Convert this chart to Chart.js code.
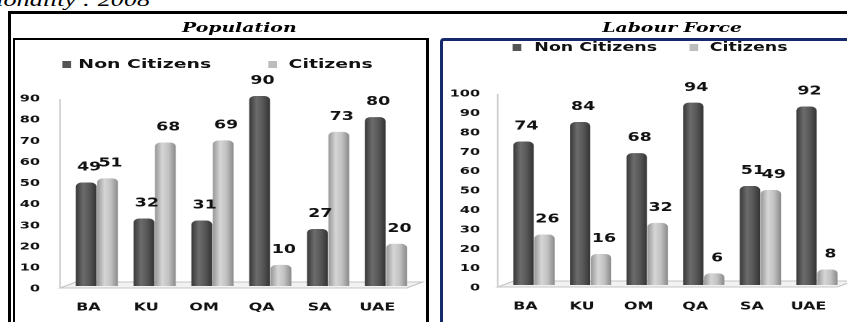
<!DOCTYPE html>
<html>
<head>
<meta charset="utf-8">
<script src="https://cdn.jsdelivr.net/npm/chart.js@4.4.1/dist/chart.umd.min.js"></script>
<style>
  html, body { margin: 0; padding: 0; background: #fff; overflow: hidden; width: 847px; height: 322px; }
  body { position: relative; font-family: "DejaVu Sans", sans-serif; color: #111; }
  #caption { position: absolute; right: 697px; top: -9px; font: italic 18px/18px "Liberation Serif", serif; white-space: nowrap; color: #000; transform-origin: 100% 0; transform: scaleX(1.45); }
  #outer { position: absolute; left: 8px; top: 11px; width: 900px; height: 400px; border-left: 3px solid #000; border-top: 3px solid #000; }
  #boxL { position: absolute; left: 13px; top: 38px; width: 411px; height: 400px; border: 2px solid #000; border-right-width: 3px; }
  #boxR { position: absolute; left: 440px; top: 38px; width: 480px; height: 400px; border: 3px solid #15296b; border-radius: 4px; }
  .panel { position: absolute; top: 0; height: 322px; transform-origin: 0 0; transform: scaleX(1.45); }
  .title { position: absolute; width: 200px; text-align: center; font: italic bold 13px/14px "DejaVu Serif", serif; color: #000; white-space: nowrap; }
  .leg { position: absolute; font: bold 13px/14px "DejaVu Sans", sans-serif; color: #111; white-space: nowrap; }
  #panelR .leg { font-size: 12px; }
  .sw { position: absolute; width: 6px; height: 7px; }
  canvas { position: absolute; left: 0; top: 40px; }
</style>
</head>
<body>
<div id="caption">Nationality : 2008</div>
<div id="outer"></div>
<div id="boxL"></div>
<div id="boxR"></div>

<div class="panel" id="panelL" style="left:16px; width:283px;">
  <div class="title" style="left:54px; top:21px;">Population</div>
  <span class="sw" style="left:32px; top:61px; background:#555;"></span>
  <span class="leg" style="left:43px; top:57px;">Non Citizens</span>
  <span class="sw" style="left:174px; top:61px; background:#bdbdbd;"></span>
  <span class="leg" style="left:188px; top:57px;">Citizens</span>
  <canvas id="popChart" width="283" height="282"></canvas>
</div>

<div class="panel" id="panelR" style="left:443px; width:301px;">
  <div class="title" style="left:58px; top:21px;">Labour Force</div>
  <span class="sw" style="left:48px; top:44px; background:#555;"></span>
  <span class="leg" style="left:63px; top:40px;">Non Citizens</span>
  <span class="sw" style="left:170px; top:44px; background:#bdbdbd;"></span>
  <span class="leg" style="left:184px; top:40px;">Citizens</span>
  <canvas id="labChart" width="301" height="282"></canvas>
</div>

<script>
// data (percent)
const categories = ["BA", "KU", "OM", "QA", "SA", "UAE"];
const popNonCitizens = [49, 32, 31, 90, 27, 80];
const popCitizens = [51, 68, 69, 10, 73, 20];
const labNonCitizens = [74, 84, 68, 94, 51, 92];
const labCitizens = [26, 16, 32, 6, 49, 8];
const popMax = 90;
const labMax = 100;

const CAT_PCT = 0.74;
const BAR_PCT = 0.97;
const DEPTH = 5.5; // fake 3d depth of the floor

// horizontal gradient so the bars look like cylinders
function cylinder(dark) {
  return function (c) {
    const fallback = dark ? "#555" : "#bdbdbd";
    const xs = c.chart.scales.x;
    if (!xs || c.dataIndex === undefined) return fallback;
    const center = xs.getPixelForValue(c.dataIndex);
    const range = (xs.right - xs.left) / categories.length * CAT_PCT;
    const slot = range / 2;
    const x0 = center - range / 2 + slot * c.datasetIndex + slot * (1 - BAR_PCT) / 2;
    const x1 = x0 + slot * BAR_PCT;
    if (!isFinite(x0) || !isFinite(x1)) return fallback;
    const g = c.chart.ctx.createLinearGradient(x0, 0, x1, 0);
    if (dark) {
      g.addColorStop(0, "#383838");
      g.addColorStop(0.35, "#6c6c6c");
      g.addColorStop(0.65, "#585858");
      g.addColorStop(1, "#343434");
    } else {
      g.addColorStop(0, "#979797");
      g.addColorStop(0.35, "#d6d6d6");
      g.addColorStop(0.65, "#c2c2c2");
      g.addColorStop(1, "#8a8a8a");
    }
    return g;
  };
}

// floor and wall edge
const floorPlugin = {
  id: "floor",
  beforeDatasetsDraw(chart) {
    const { ctx, chartArea: a } = chart;
    ctx.save();
    ctx.fillStyle = "#f2f2f2";
    ctx.strokeStyle = "#c4c4c4";
    ctx.lineWidth = 1;
    ctx.beginPath();
    ctx.moveTo(a.left - DEPTH, a.bottom + 2);
    ctx.lineTo(a.right - DEPTH, a.bottom + 2);
    ctx.lineTo(a.right + DEPTH, a.bottom - 4);
    ctx.lineTo(a.left + DEPTH, a.bottom - 4);
    ctx.closePath();
    ctx.fill();
    ctx.stroke();
    ctx.beginPath();
    ctx.moveTo(a.left - DEPTH, a.top + 3);
    ctx.lineTo(a.left - DEPTH, a.bottom + 2);
    ctx.stroke();
    ctx.restore();
  },
};

// value labels above every bar
const valuePlugin = {
  id: "values",
  afterDatasetsDraw(chart) {
    const ctx = chart.ctx;
    ctx.save();
    ctx.font = "bold 12px 'DejaVu Sans', sans-serif";
    ctx.fillStyle = "#111";
    ctx.textAlign = "center";
    ctx.textBaseline = "middle";
    chart.data.datasets.forEach((ds, i) => {
      chart.getDatasetMeta(i).data.forEach((el, j) => {
        ctx.fillText(String(ds.data[j]), el.x + 2, el.y - 15);
      });
    });
    ctx.restore();
  },
};

function makeChart(id, nonCit, cit, yMax, geo) {
  const ctx = document.getElementById(id).getContext("2d");
  return new Chart(ctx, {
    type: "bar",
    data: {
      labels: categories,
      datasets: [
        {
          label: "Non Citizens",
          data: nonCit,
          backgroundColor: cylinder(true),
          borderRadius: { topLeft: 4, topRight: 4 },
          borderSkipped: "bottom",
          categoryPercentage: CAT_PCT,
          barPercentage: BAR_PCT,
        },
        {
          label: "Citizens",
          data: cit,
          backgroundColor: cylinder(false),
          borderRadius: { topLeft: 4, topRight: 4 },
          borderSkipped: "bottom",
          categoryPercentage: CAT_PCT,
          barPercentage: BAR_PCT,
        },
      ],
    },
    options: {
      responsive: false,
      animation: false,
      devicePixelRatio: 2,
      layout: {
        padding: { left: 0, top: geo.top, right: geo.right, bottom: 0 },
      },
      scales: {
        x: {
          grid: { display: false, drawTicks: false },
          border: { display: false },
          ticks: {
            font: { family: "'DejaVu Sans', sans-serif", size: 11, weight: "bold" },
            color: "#111",
            padding: 15,
            labelOffset: -5.9,
            maxRotation: 0,
            autoSkip: false,
          },
          afterFit: (scale) => {
            scale.height = geo.xHeight;
          },
        },
        y: {
          min: 0,
          max: yMax,
          grid: { display: false, drawTicks: false },
          border: { display: false },
          ticks: {
            stepSize: 10,
            font: { family: "'DejaVu Sans', sans-serif", size: 10, weight: "bold" },
            color: "#111",
            padding: geo.tickPad,
            labelOffset: 3,
          },
          afterFit: (scale) => {
            scale.width = geo.yWidth;
          },
        },
      },
      plugins: {
        legend: { display: false },
        tooltip: { enabled: false },
      },
    },
    plugins: [floorPlugin, valuePlugin],
  });
}

makeChart("popChart", popNonCitizens, popCitizens, popMax, {
  top: 56,
  right: 7.14,
  xHeight: 36,
  yWidth: 35.86,
  tickPad: 19.3,
});

makeChart("labChart", labNonCitizens, labCitizens, labMax, {
  top: 51,
  right: 23.55,
  xHeight: 37,
  yWidth: 43.24,
  tickPad: 17.7,
});
</script>
</body>
</html>
